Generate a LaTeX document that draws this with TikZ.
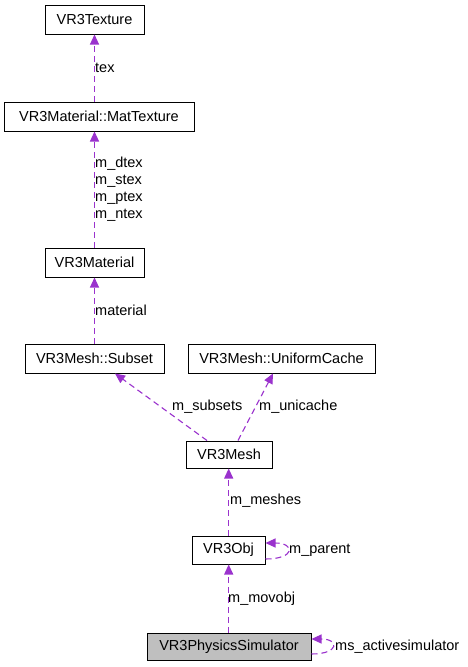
\documentclass[tikz,border=0pt]{standalone}
\usepackage{fontspec}
\setmainfont{Liberation Sans}
\usetikzlibrary{arrows.meta,calc}
\definecolor{edgec}{HTML}{9A32CD}
\definecolor{simfill}{HTML}{BFBFBF}
\begin{document}
\begin{tikzpicture}[x=1pt,y=-1pt,
  box/.style={draw=black,line width=1pt,fill=white,inner sep=0pt,minimum height=29pt,font=\fontsize{14.5}{16}\selectfont},
  edge/.style={draw=edgec,line width=1.1pt,dash pattern=on 6pt off 4pt,-{Triangle[length=10pt,width=9pt]}},
  lbl/.style={anchor=west,inner sep=0pt,font=\fontsize{14.5}{17}\selectfont,align=left}]
\useasboundingbox[fill=white] (0,0) rectangle (468,667);
\node[box,minimum width=99pt] (tex) at (94.5,19.5) {VR3Texture};
\node[box,minimum width=190pt] (mattex) at (99,116.5) {VR3Material::MatTexture};
\node[box,minimum width=99pt] (mat) at (94.5,262.5) {VR3Material};
\node[box,minimum width=139pt] (subset) at (94.5,358.5) {VR3Mesh::Subset};
\node[box,minimum width=187pt] (ucache) at (281.5,358.5) {VR3Mesh::UniformCache};
\node[box,minimum width=86pt,minimum height=27pt] (mesh) at (229,454.5) {VR3Mesh};
\node[box,minimum width=73pt,minimum height=28pt] (obj) at (228.5,550) {VR3Obj};
\node[box,minimum width=164pt,minimum height=27pt,fill=simfill] (sim) at (229,646.5) {VR3PhysicsSimulator};
\coordinate (vx) at (228.7,0);

\draw[edge] (mattex.north -| tex.south) -- (tex.south);
\draw[edge] (mat.north) -- (mattex.south -| mat.north);
\draw[edge] (subset.north) -- (mat.south);
\draw[edge] ($(mesh.north)+(-22,0)$) -- ($(subset.south)+(20.5,0)$);
\draw[edge] ($(mesh.north)+(9,0)$) -- ($(ucache.south)+(-8.5,0)$);
\draw[edge] (obj.north -| vx) -- (mesh.south -| vx);
\draw[edge] (sim.north -| vx) -- (obj.south -| vx);
\draw[edge] ([yshift=-9pt]obj.east) .. controls +(30,0) and +(30,0) .. ([yshift=7pt]obj.east);
\draw[edge] ([yshift=-7.5pt]sim.east) .. controls +(28,0) and +(28,0) .. ([yshift=7.5pt]sim.east);

\node[lbl] (ltex) at (95,68) {tex};
\node[lbl] (lmt) at (95,189) {m\_dtex\\m\_stex\\m\_ptex\\m\_ntex};
\node[lbl] (lmat) at (95,310) {material};
\node[lbl] (lsub) at (172,407) {m\_subsets};
\node[lbl] (luni) at (259,407) {m\_unicache};
\node[lbl] (lmesh) at (230,501) {m\_meshes};
\node[lbl] (lpar) at (289,550) {m\_parent};
\node[lbl] (lmov) at (228,599) {m\_movobj};
\node[lbl] (lact) at (335,647) {ms\_activesimulator};
\end{tikzpicture}
\end{document}
